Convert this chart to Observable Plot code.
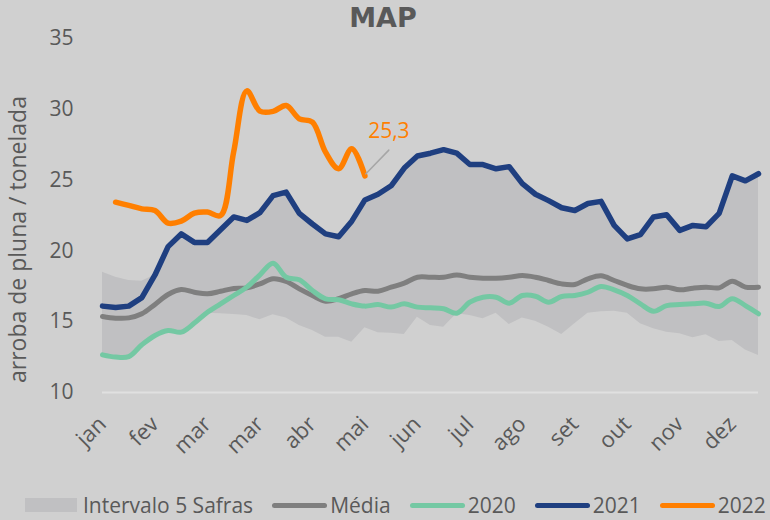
<!DOCTYPE html>
<html>
<head>
<meta charset="utf-8">
<script src="https://cdn.jsdelivr.net/npm/d3@7"></script>
<script src="https://cdn.jsdelivr.net/npm/@observablehq/plot@0.6"></script>
<style>
  html, body { margin: 0; padding: 0; background: #d0d0d0; }
  #wrap { position: relative; width: 770px; height: 520px; overflow: hidden; font-family: "Open Sans", sans-serif; color: #595959; }
  #chart { position: absolute; left: 0; top: 0; }
  #title { position: absolute; left: 0; top: 1px; width: 766px; text-align: center; font: bold 27px/34px "DejaVu Sans", "Open Sans", sans-serif; color: #595959; }
  #ylabel { position: absolute; left: -183px; top: 224px; width: 400px; height: 31px; line-height: 31px; text-align: center; font-size: 23px; transform: rotate(-90deg); transform-origin: 200px 15.5px; white-space: nowrap; }
  #legend { position: absolute; left: 25px; top: 491px; height: 28px; display: flex; align-items: center; font-size: 21px; line-height: 28px; white-space: nowrap; }
  .item { display: flex; align-items: center; margin-right: 19px; }
  .box { width: 52px; height: 14px; background: #c0c0c2; margin-right: 6px; }
  .ln { width: 55px; height: 5px; border-radius: 3px; margin-right: 3px; }
</style>
</head>
<body>
<div id="wrap">
  <div id="chart"></div>
  <div id="title">MAP</div>
  <div id="ylabel">arroba de pluna / tonelada</div>
  <div id="legend"></div>
</div>
<script>
// Weekly index (0 = first week of jan)
const weeks = d3.range(51);

// Month labels (one every 4 weeks)
const monthLabels = ["jan","fev","mar","mar","abr","mai","jun","jul","ago","set","out","nov","dez"];
const monthTickWeeks = [0,4,8,12,16,20,24,28,32,36,40,44,48];

const yTicks = [10, 15, 20, 25, 30, 35];

// Intervalo 5 Safras (min / max)
const bandLow = [12.66,12.5,12.53,13.37,14.03,14.38,14.26,14.9,15.6,15.56,
  15.51,15.44,15.13,15.49,15.27,14.73,14.38,13.91,13.91,13.55,
  14.57,14.22,14.19,14.1,15.32,14.73,14.61,15.56,15.44,15.2,
  15.6,14.8,15.27,15.04,14.61,14.1,14.85,15.6,15.7,15.74,
  15.6,14.85,14.5,14.26,14.15,13.86,14.07,13.6,13.67,13.0,12.61];
const bandHigh = [18.5,18.14,17.91,17.86,18.3,20.3,21.2,20.6,20.6,21.5,
  22.4,22.15,22.7,23.9,24.15,22.65,21.9,21.2,21.0,22.1,
  23.6,24.0,24.6,25.85,26.7,26.9,27.15,26.9,26.1,26.1,
  25.8,25.95,24.75,24.0,23.55,23.05,22.85,23.35,23.5,21.8,
  20.85,21.15,22.4,22.55,21.45,21.8,21.7,22.65,25.3,24.95,25.45];

// Média
const media = [15.37,15.25,15.27,15.56,16.22,16.92,17.27,17.08,16.97,17.15,
  17.35,17.39,17.67,18.03,17.84,17.32,16.85,16.45,16.62,16.97,
  17.2,17.15,17.44,17.72,18.14,18.14,18.14,18.3,18.14,18.07,
  18.07,18.14,18.26,18.14,17.91,17.67,17.63,18.03,18.24,17.91,
  17.56,17.32,17.32,17.44,17.25,17.37,17.44,17.39,17.86,17.44,17.44];

// 2020
const s2020 = [12.66,12.5,12.53,13.37,14.03,14.38,14.26,14.9,15.67,16.26,
  16.85,17.44,18.31,19.13,18.14,17.96,17.2,16.62,16.55,16.26,
  16.1,16.21,16.03,16.26,16.03,15.98,15.91,15.6,16.38,16.73,
  16.73,16.31,16.85,16.8,16.38,16.78,16.85,17.08,17.49,17.25,
  16.85,16.26,15.74,16.14,16.21,16.26,16.31,16.07,16.62,16.14,15.56];

// 2021
const s2021 = [16.1,16.0,16.1,16.7,18.3,20.3,21.2,20.6,20.6,21.5,
  22.4,22.15,22.7,23.9,24.15,22.65,21.9,21.2,21.0,22.1,
  23.6,24.0,24.6,25.85,26.7,26.9,27.15,26.9,26.1,26.1,
  25.8,25.95,24.75,24.0,23.55,23.05,22.85,23.35,23.5,21.8,
  20.85,21.15,22.4,22.55,21.45,21.8,21.7,22.65,25.3,24.95,25.45];

// 2022 (starts at week 1)
const s2022 = [null,23.44,23.21,22.97,22.85,21.96,22.1,22.66,22.74,22.5,
  27.0,31.3,29.87,29.85,30.27,29.33,29.09,26.97,25.8,27.21,25.3];

const rows = weeks.map(i => ({
  week: i, low: bandLow[i], high: bandHigh[i],
  media: media[i], s2020: s2020[i], s2021: s2021[i],
  s2022: i < s2022.length ? s2022[i] : null
}));
const rows2022 = rows.filter(d => d.s2022 != null);
const last2022 = [rows2022[rows2022.length - 1]];

const C = { band: "#c0c0c2", media: "#7f7f7f", y2020: "#74c8a3", y2021: "#1f3f80", y2022: "#ff7f00", text: "#595959" };

const leader = { draw(context, l) { context.moveTo(0, 0); context.lineTo(0, -l); } };

const chart = Plot.plot({
  width: 770,
  height: 470,
  marginLeft: 102,
  marginRight: 12,
  marginTop: 38,
  marginBottom: 78,
  style: { background: "transparent", color: C.text, fontFamily: "'Open Sans', sans-serif", fontSize: "21px", overflow: "visible" },
  x: { type: "linear", domain: [0, 50] },
  y: { domain: [10, 35] },
  marks: [
    Plot.areaY(rows, { x: "week", y1: "low", y2: "high", fill: C.band }),
    Plot.ruleY([10], { stroke: "#e0e0e0", strokeWidth: 2 }),
    Plot.lineY(rows, { x: "week", y: "media", stroke: C.media, strokeWidth: 5, curve: "catmull-rom", strokeLinecap: "round", strokeLinejoin: "round" }),
    Plot.lineY(rows, { x: "week", y: "s2020", stroke: C.y2020, strokeWidth: 5, curve: "catmull-rom", strokeLinecap: "round", strokeLinejoin: "round" }),
    Plot.lineY(rows, { x: "week", y: "s2021", stroke: C.y2021, strokeWidth: 5.5, strokeLinecap: "round", strokeLinejoin: "round" }),
    Plot.lineY(rows2022, { x: "week", y: "s2022", stroke: C.y2022, strokeWidth: 5.5, curve: "catmull-rom", strokeLinecap: "round", strokeLinejoin: "round" }),
    Plot.vector(last2022, { x: "week", y: "s2022", length: 33, rotate: 44, anchor: "start", shape: leader, stroke: "#a6a6a6", strokeWidth: 1.5, dx: 1, dy: -2 }),
    Plot.text(last2022, { x: "week", y: "s2022", text: d => d.s2022.toFixed(1).replace(".", ","), fill: C.y2022, fontSize: 21, dx: 24, dy: -45 }),
    Plot.axisY({ ticks: yTicks, tickSize: 0, tickPadding: 29, label: null, fontSize: 21, fill: C.text }),
    Plot.axisX({ ticks: monthTickWeeks, tickFormat: v => monthLabels[monthTickWeeks.indexOf(v)], tickRotate: -45, tickSize: 0, tickPadding: 28, label: null, fontSize: 22, fill: C.text })
  ]
});
document.getElementById("chart").appendChild(chart);

// Legend
const legendItems = [
  { label: "Intervalo 5 Safras", color: C.band, kind: "box" },
  { label: "Média", color: C.media, kind: "ln" },
  { label: "2020", color: C.y2020, kind: "ln" },
  { label: "2021", color: C.y2021, kind: "ln" },
  { label: "2022", color: C.y2022, kind: "ln" }
];
const legend = document.getElementById("legend");
for (const it of legendItems) {
  const item = document.createElement("div");
  item.className = "item";
  const sw = document.createElement("span");
  sw.className = it.kind;
  sw.style.background = it.color;
  const tx = document.createElement("span");
  tx.textContent = it.label;
  item.appendChild(sw);
  item.appendChild(tx);
  legend.appendChild(item);
}
</script>
</body>
</html>
